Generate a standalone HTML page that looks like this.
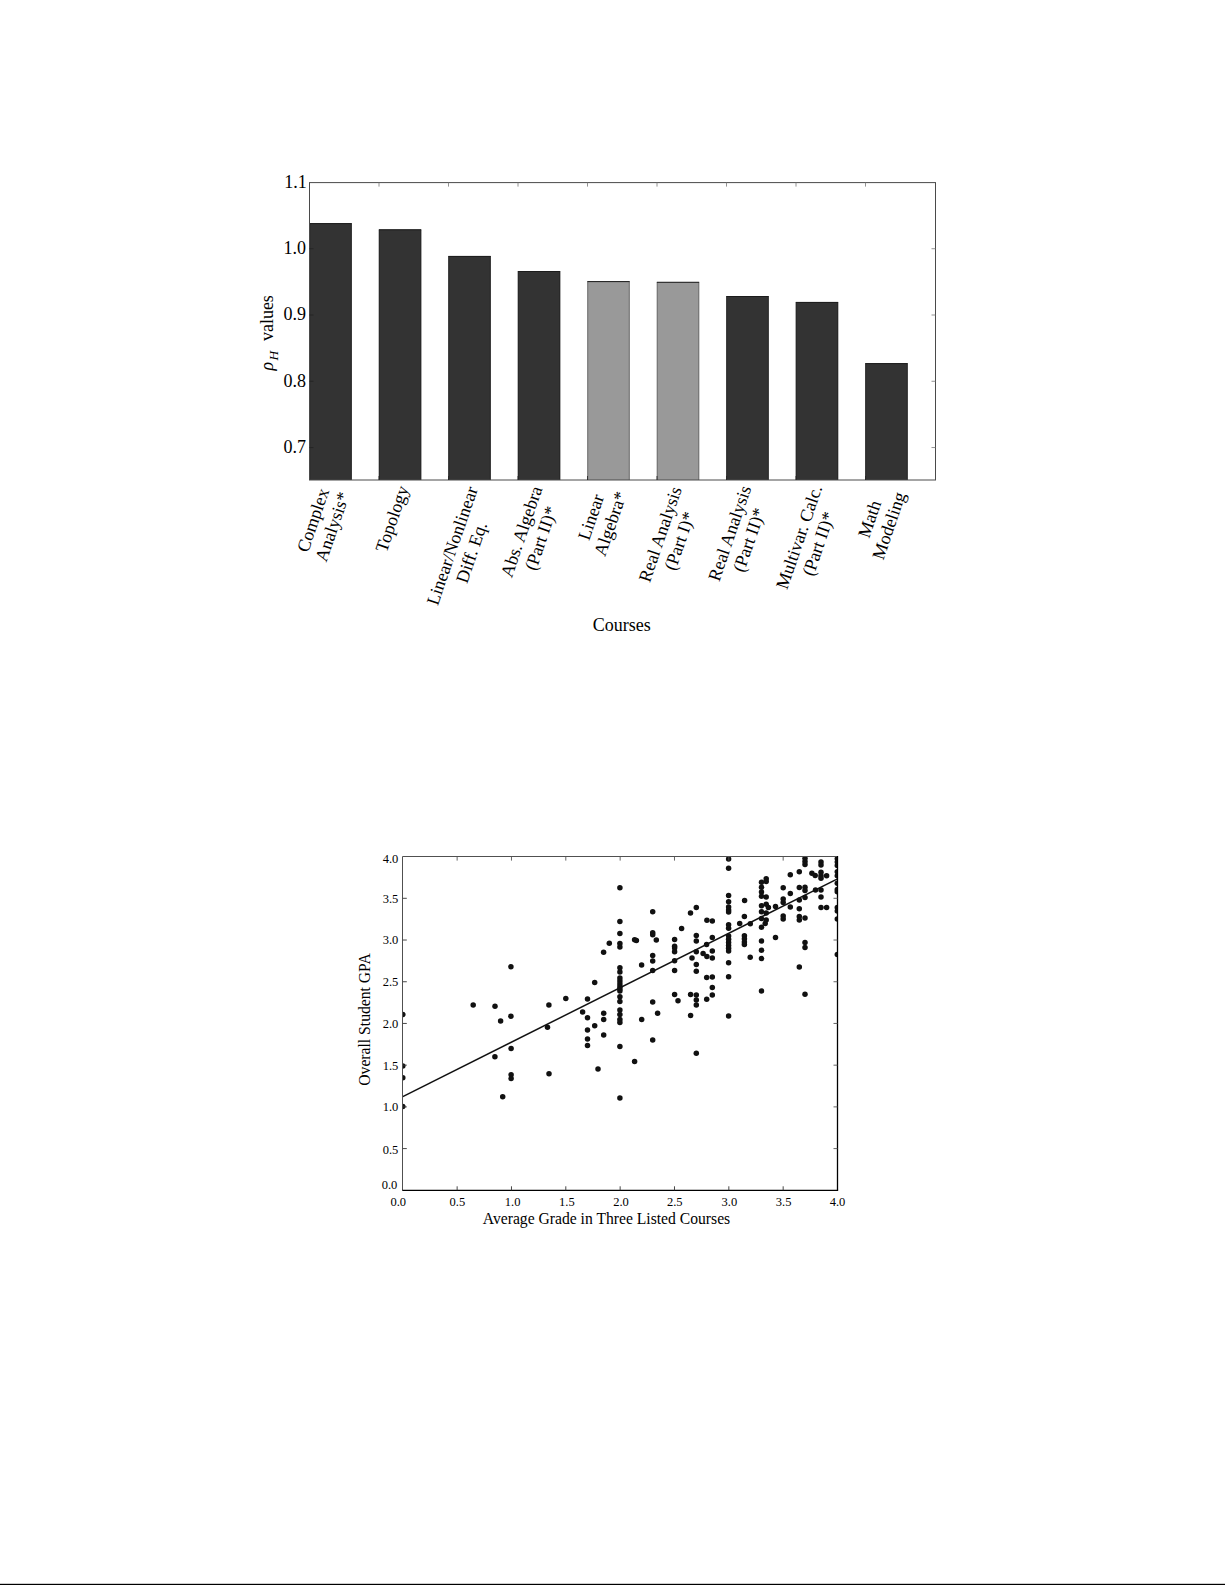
<!DOCTYPE html>
<html><head><meta charset="utf-8"><title>Figures</title>
<style>html,body{margin:0;padding:0;background:#fff;width:1225px;height:1585px;overflow:hidden}svg{display:block}</style>
</head><body>
<svg width="1225" height="1585" viewBox="0 0 1225 1585" font-family="'Liberation Serif','Times New Roman',serif" fill="#000"><rect x="309.40" y="223.20" width="42.30" height="256.80" fill="#333333"/>
<path d="M309.80,480.0 V223.60 M351.30,480.0 V223.60" stroke="#262626" stroke-width="0.9" fill="none"/>
<line x1="309.40" y1="223.60" x2="351.70" y2="223.60" stroke="#1c1c1c" stroke-width="1"/>
<rect x="378.89" y="229.40" width="42.30" height="250.60" fill="#333333"/>
<path d="M379.29,480.0 V229.80 M420.79,480.0 V229.80" stroke="#262626" stroke-width="0.9" fill="none"/>
<line x1="378.89" y1="229.80" x2="421.19" y2="229.80" stroke="#1c1c1c" stroke-width="1"/>
<rect x="448.38" y="256.00" width="42.30" height="224.00" fill="#333333"/>
<path d="M448.78,480.0 V256.40 M490.28,480.0 V256.40" stroke="#262626" stroke-width="0.9" fill="none"/>
<line x1="448.38" y1="256.40" x2="490.68" y2="256.40" stroke="#1c1c1c" stroke-width="1"/>
<rect x="517.87" y="271.10" width="42.30" height="208.90" fill="#333333"/>
<path d="M518.27,480.0 V271.50 M559.77,480.0 V271.50" stroke="#262626" stroke-width="0.9" fill="none"/>
<line x1="517.87" y1="271.50" x2="560.17" y2="271.50" stroke="#1c1c1c" stroke-width="1"/>
<rect x="587.36" y="281.20" width="42.30" height="198.80" fill="#999999"/>
<path d="M587.76,480.0 V281.60 M629.26,480.0 V281.60" stroke="#6a6a6a" stroke-width="0.9" fill="none"/>
<line x1="587.36" y1="281.60" x2="629.66" y2="281.60" stroke="#1c1c1c" stroke-width="1"/>
<rect x="656.85" y="281.90" width="42.30" height="198.10" fill="#999999"/>
<path d="M657.25,480.0 V282.30 M698.75,480.0 V282.30" stroke="#6a6a6a" stroke-width="0.9" fill="none"/>
<line x1="656.85" y1="282.30" x2="699.15" y2="282.30" stroke="#1c1c1c" stroke-width="1"/>
<rect x="726.34" y="296.10" width="42.30" height="183.90" fill="#333333"/>
<path d="M726.74,480.0 V296.50 M768.24,480.0 V296.50" stroke="#262626" stroke-width="0.9" fill="none"/>
<line x1="726.34" y1="296.50" x2="768.64" y2="296.50" stroke="#1c1c1c" stroke-width="1"/>
<rect x="795.83" y="302.00" width="42.30" height="178.00" fill="#333333"/>
<path d="M796.23,480.0 V302.40 M837.73,480.0 V302.40" stroke="#262626" stroke-width="0.9" fill="none"/>
<line x1="795.83" y1="302.40" x2="838.13" y2="302.40" stroke="#1c1c1c" stroke-width="1"/>
<rect x="865.32" y="363.20" width="42.30" height="116.80" fill="#333333"/>
<path d="M865.72,480.0 V363.60 M907.22,480.0 V363.60" stroke="#262626" stroke-width="0.9" fill="none"/>
<line x1="865.32" y1="363.60" x2="907.62" y2="363.60" stroke="#1c1c1c" stroke-width="1"/>
<rect x="309.5" y="182.6" width="626.0" height="297.4" fill="none" stroke="#4a4a4a" stroke-width="1"/>
<line x1="379.00" y1="182.6" x2="379.00" y2="186.6" stroke="#777" stroke-width="0.8"/>
<line x1="379.00" y1="480.0" x2="379.00" y2="476.0" stroke="#222" stroke-width="0.8"/>
<line x1="448.50" y1="182.6" x2="448.50" y2="186.6" stroke="#777" stroke-width="0.8"/>
<line x1="448.50" y1="480.0" x2="448.50" y2="476.0" stroke="#222" stroke-width="0.8"/>
<line x1="518.00" y1="182.6" x2="518.00" y2="186.6" stroke="#777" stroke-width="0.8"/>
<line x1="518.00" y1="480.0" x2="518.00" y2="476.0" stroke="#222" stroke-width="0.8"/>
<line x1="587.50" y1="182.6" x2="587.50" y2="186.6" stroke="#777" stroke-width="0.8"/>
<line x1="587.50" y1="480.0" x2="587.50" y2="476.0" stroke="#222" stroke-width="0.8"/>
<line x1="657.00" y1="182.6" x2="657.00" y2="186.6" stroke="#777" stroke-width="0.8"/>
<line x1="657.00" y1="480.0" x2="657.00" y2="476.0" stroke="#222" stroke-width="0.8"/>
<line x1="726.50" y1="182.6" x2="726.50" y2="186.6" stroke="#777" stroke-width="0.8"/>
<line x1="726.50" y1="480.0" x2="726.50" y2="476.0" stroke="#222" stroke-width="0.8"/>
<line x1="796.00" y1="182.6" x2="796.00" y2="186.6" stroke="#777" stroke-width="0.8"/>
<line x1="796.00" y1="480.0" x2="796.00" y2="476.0" stroke="#222" stroke-width="0.8"/>
<line x1="865.50" y1="182.6" x2="865.50" y2="186.6" stroke="#777" stroke-width="0.8"/>
<line x1="865.50" y1="480.0" x2="865.50" y2="476.0" stroke="#222" stroke-width="0.8"/>
<line x1="931.5" y1="248.73" x2="935.5" y2="248.73" stroke="#777" stroke-width="0.8"/>
<line x1="309.5" y1="248.73" x2="313.5" y2="248.73" stroke="#222" stroke-width="0.8"/>
<line x1="931.5" y1="315.00" x2="935.5" y2="315.00" stroke="#777" stroke-width="0.8"/>
<line x1="309.5" y1="315.00" x2="313.5" y2="315.00" stroke="#222" stroke-width="0.8"/>
<line x1="931.5" y1="381.27" x2="935.5" y2="381.27" stroke="#777" stroke-width="0.8"/>
<line x1="309.5" y1="381.27" x2="313.5" y2="381.27" stroke="#222" stroke-width="0.8"/>
<line x1="931.5" y1="447.54" x2="935.5" y2="447.54" stroke="#777" stroke-width="0.8"/>
<line x1="309.5" y1="447.54" x2="313.5" y2="447.54" stroke="#222" stroke-width="0.8"/>
<text x="306.8" y="187.76" font-size="18" text-anchor="end">1.1</text>
<text x="305.9" y="254.03" font-size="18" text-anchor="end">1.0</text>
<text x="305.9" y="320.30" font-size="18" text-anchor="end">0.9</text>
<text x="305.9" y="386.57" font-size="18" text-anchor="end">0.8</text>
<text x="305.9" y="452.84" font-size="18" text-anchor="end">0.7</text>
<text transform="translate(273.3,370.5) rotate(-90)" font-size="18"><tspan font-style="italic">ρ</tspan><tspan font-style="italic" font-size="13.5" dy="4.5" dx="1.3">H</tspan><tspan dy="-4.5" dx="9.7">values</tspan></text>
<text x="621.7" y="630.9" font-size="18" text-anchor="middle">Courses</text>
<text transform="translate(312.96,520.01) rotate(-71.0)" font-size="18" text-anchor="middle" dy="6">Complex</text>
<text transform="translate(332.34,526.69) rotate(-71.0)" font-size="18" text-anchor="middle" dy="6">Analysis*</text>
<text transform="translate(392.00,518.70) rotate(-71.0)" font-size="18" text-anchor="middle" dy="6">Topology</text>
<text transform="translate(452.16,545.66) rotate(-71.0)" font-size="18" text-anchor="middle" dy="6">Linear/Nonlinear</text>
<text transform="translate(471.54,552.34) rotate(-71.0)" font-size="18" text-anchor="middle" dy="6">Diff. Eq.</text>
<text transform="translate(521.46,531.56) rotate(-71.0)" font-size="18" text-anchor="middle" dy="6">Abs. Algebra</text>
<text transform="translate(540.84,538.24) rotate(-71.0)" font-size="18" text-anchor="middle" dy="6">(Part II)*</text>
<text transform="translate(590.96,517.01) rotate(-71.0)" font-size="18" text-anchor="middle" dy="6">Linear</text>
<text transform="translate(610.34,523.69) rotate(-71.0)" font-size="18" text-anchor="middle" dy="6">Algebra*</text>
<text transform="translate(660.16,534.21) rotate(-71.0)" font-size="18" text-anchor="middle" dy="6">Real Analysis</text>
<text transform="translate(679.54,540.89) rotate(-71.0)" font-size="18" text-anchor="middle" dy="6">(Part I)*</text>
<text transform="translate(729.66,533.16) rotate(-71.0)" font-size="18" text-anchor="middle" dy="6">Real Analysis</text>
<text transform="translate(749.04,539.84) rotate(-71.0)" font-size="18" text-anchor="middle" dy="6">(Part II)*</text>
<text transform="translate(799.01,537.06) rotate(-71.0)" font-size="18" text-anchor="middle" dy="6">Multivar. Calc.</text>
<text transform="translate(818.39,543.74) rotate(-71.0)" font-size="18" text-anchor="middle" dy="6">(Part II)*</text>
<text transform="translate(869.51,519.01) rotate(-71.0)" font-size="18" text-anchor="middle" dy="6">Math</text>
<text transform="translate(888.89,525.69) rotate(-71.0)" font-size="18" text-anchor="middle" dy="6">Modeling</text>
<defs><clipPath id="ca"><rect x="402.80" y="856.60" width="434.70" height="333.70"/></clipPath></defs>
<g clip-path="url(#ca)" fill="#111">
<circle cx="402.8" cy="1014.6" r="2.75"/>
<circle cx="402.8" cy="1066.1" r="2.75"/>
<circle cx="402.8" cy="1077.8" r="2.75"/>
<circle cx="402.8" cy="1106.5" r="2.75"/>
<circle cx="473.2" cy="1005.0" r="2.75"/>
<circle cx="495.0" cy="1006.2" r="2.75"/>
<circle cx="500.6" cy="1021.0" r="2.75"/>
<circle cx="510.9" cy="1016.2" r="2.75"/>
<circle cx="510.9" cy="966.8" r="2.75"/>
<circle cx="511.1" cy="1048.4" r="2.75"/>
<circle cx="494.9" cy="1056.8" r="2.75"/>
<circle cx="511.1" cy="1074.7" r="2.75"/>
<circle cx="511.1" cy="1078.6" r="2.75"/>
<circle cx="502.7" cy="1096.8" r="2.75"/>
<circle cx="549.0" cy="1073.7" r="2.75"/>
<circle cx="548.9" cy="1004.9" r="2.75"/>
<circle cx="547.5" cy="1027.2" r="2.75"/>
<circle cx="565.8" cy="998.5" r="2.75"/>
<circle cx="587.5" cy="999.1" r="2.75"/>
<circle cx="594.7" cy="982.5" r="2.75"/>
<circle cx="582.6" cy="1011.9" r="2.75"/>
<circle cx="587.5" cy="1017.7" r="2.75"/>
<circle cx="594.7" cy="1025.8" r="2.75"/>
<circle cx="587.5" cy="1030.0" r="2.75"/>
<circle cx="587.5" cy="1038.9" r="2.75"/>
<circle cx="587.5" cy="1045.6" r="2.75"/>
<circle cx="603.7" cy="1013.3" r="2.75"/>
<circle cx="603.7" cy="1019.6" r="2.75"/>
<circle cx="603.7" cy="1035.0" r="2.75"/>
<circle cx="598.0" cy="1068.9" r="2.75"/>
<circle cx="609.3" cy="943.2" r="2.75"/>
<circle cx="603.6" cy="952.2" r="2.75"/>
<circle cx="634.6" cy="939.7" r="2.75"/>
<circle cx="636.4" cy="940.4" r="2.75"/>
<circle cx="641.6" cy="965.0" r="2.75"/>
<circle cx="641.7" cy="1019.5" r="2.75"/>
<circle cx="634.6" cy="1061.5" r="2.75"/>
<circle cx="652.7" cy="911.7" r="2.75"/>
<circle cx="652.7" cy="932.8" r="2.75"/>
<circle cx="652.7" cy="934.8" r="2.75"/>
<circle cx="656.3" cy="939.9" r="2.75"/>
<circle cx="652.7" cy="955.5" r="2.75"/>
<circle cx="652.7" cy="961.1" r="2.75"/>
<circle cx="652.7" cy="970.4" r="2.75"/>
<circle cx="652.7" cy="1002.0" r="2.75"/>
<circle cx="657.6" cy="1013.2" r="2.75"/>
<circle cx="652.7" cy="1039.9" r="2.75"/>
<circle cx="674.6" cy="939.6" r="2.75"/>
<circle cx="674.6" cy="946.2" r="2.75"/>
<circle cx="674.6" cy="948.0" r="2.75"/>
<circle cx="674.6" cy="951.7" r="2.75"/>
<circle cx="674.6" cy="960.8" r="2.75"/>
<circle cx="674.6" cy="970.4" r="2.75"/>
<circle cx="674.6" cy="994.4" r="2.75"/>
<circle cx="678.0" cy="1000.7" r="2.75"/>
<circle cx="681.6" cy="928.5" r="2.75"/>
<circle cx="690.5" cy="913.1" r="2.75"/>
<circle cx="696.3" cy="907.6" r="2.75"/>
<circle cx="696.3" cy="935.6" r="2.75"/>
<circle cx="696.3" cy="941.1" r="2.75"/>
<circle cx="696.3" cy="951.7" r="2.75"/>
<circle cx="692.0" cy="958.1" r="2.75"/>
<circle cx="696.3" cy="964.4" r="2.75"/>
<circle cx="696.3" cy="971.2" r="2.75"/>
<circle cx="690.6" cy="994.4" r="2.75"/>
<circle cx="690.6" cy="1015.5" r="2.75"/>
<circle cx="696.3" cy="994.9" r="2.75"/>
<circle cx="696.3" cy="1000.0" r="2.75"/>
<circle cx="696.3" cy="1005.0" r="2.75"/>
<circle cx="696.3" cy="1053.2" r="2.75"/>
<circle cx="706.9" cy="920.2" r="2.75"/>
<circle cx="712.3" cy="920.9" r="2.75"/>
<circle cx="712.3" cy="937.4" r="2.75"/>
<circle cx="706.6" cy="944.4" r="2.75"/>
<circle cx="703.1" cy="953.6" r="2.75"/>
<circle cx="706.9" cy="956.6" r="2.75"/>
<circle cx="712.3" cy="950.9" r="2.75"/>
<circle cx="712.3" cy="957.9" r="2.75"/>
<circle cx="706.7" cy="977.6" r="2.75"/>
<circle cx="712.3" cy="977.0" r="2.75"/>
<circle cx="712.3" cy="987.6" r="2.75"/>
<circle cx="712.3" cy="995.1" r="2.75"/>
<circle cx="706.7" cy="999.3" r="2.75"/>
<circle cx="744.6" cy="900.6" r="2.75"/>
<circle cx="744.4" cy="916.6" r="2.75"/>
<circle cx="739.7" cy="923.4" r="2.75"/>
<circle cx="750.3" cy="923.7" r="2.75"/>
<circle cx="750.2" cy="957.2" r="2.75"/>
<circle cx="768.4" cy="907.5" r="2.75"/>
<circle cx="765.2" cy="923.5" r="2.75"/>
<circle cx="775.5" cy="906.5" r="2.75"/>
<circle cx="775.5" cy="937.5" r="2.75"/>
<circle cx="811.9" cy="873.2" r="2.75"/>
<circle cx="815.2" cy="875.5" r="2.75"/>
<circle cx="815.5" cy="889.9" r="2.75"/>
<circle cx="826.6" cy="875.7" r="2.75"/>
<circle cx="826.6" cy="907.5" r="2.75"/>
<circle cx="619.9" cy="887.8" r="2.75"/>
<circle cx="619.9" cy="921.4" r="2.75"/>
<circle cx="619.9" cy="933.4" r="2.75"/>
<circle cx="619.9" cy="943.4" r="2.75"/>
<circle cx="619.9" cy="946.9" r="2.75"/>
<circle cx="619.9" cy="967.8" r="2.75"/>
<circle cx="619.9" cy="972.0" r="2.75"/>
<circle cx="619.9" cy="977.9" r="2.75"/>
<circle cx="619.9" cy="981.1" r="2.75"/>
<circle cx="619.9" cy="984.0" r="2.75"/>
<circle cx="619.9" cy="986.7" r="2.75"/>
<circle cx="619.9" cy="988.9" r="2.75"/>
<circle cx="619.9" cy="991.1" r="2.75"/>
<circle cx="619.9" cy="996.8" r="2.75"/>
<circle cx="619.9" cy="1001.5" r="2.75"/>
<circle cx="619.9" cy="1010.0" r="2.75"/>
<circle cx="619.9" cy="1014.5" r="2.75"/>
<circle cx="619.9" cy="1019.6" r="2.75"/>
<circle cx="619.9" cy="1022.5" r="2.75"/>
<circle cx="619.9" cy="1046.6" r="2.75"/>
<circle cx="619.9" cy="1098.1" r="2.75"/>
<circle cx="728.6" cy="859.1" r="2.75"/>
<circle cx="728.6" cy="868.3" r="2.75"/>
<circle cx="728.6" cy="895.4" r="2.75"/>
<circle cx="728.6" cy="901.7" r="2.75"/>
<circle cx="728.6" cy="907.1" r="2.75"/>
<circle cx="728.6" cy="910.0" r="2.75"/>
<circle cx="728.6" cy="912.0" r="2.75"/>
<circle cx="728.6" cy="924.7" r="2.75"/>
<circle cx="728.6" cy="928.2" r="2.75"/>
<circle cx="728.6" cy="936.1" r="2.75"/>
<circle cx="728.6" cy="939.2" r="2.75"/>
<circle cx="728.6" cy="942.4" r="2.75"/>
<circle cx="728.6" cy="945.5" r="2.75"/>
<circle cx="728.6" cy="948.2" r="2.75"/>
<circle cx="728.6" cy="950.9" r="2.75"/>
<circle cx="728.6" cy="962.8" r="2.75"/>
<circle cx="728.6" cy="976.7" r="2.75"/>
<circle cx="728.6" cy="1016.1" r="2.75"/>
<circle cx="744.4" cy="935.7" r="2.75"/>
<circle cx="744.4" cy="938.8" r="2.75"/>
<circle cx="744.4" cy="941.9" r="2.75"/>
<circle cx="744.4" cy="944.6" r="2.75"/>
<circle cx="761.5" cy="882.3" r="2.75"/>
<circle cx="761.5" cy="887.3" r="2.75"/>
<circle cx="761.5" cy="891.9" r="2.75"/>
<circle cx="761.5" cy="896.2" r="2.75"/>
<circle cx="761.5" cy="905.8" r="2.75"/>
<circle cx="761.5" cy="911.8" r="2.75"/>
<circle cx="761.5" cy="918.6" r="2.75"/>
<circle cx="761.5" cy="927.2" r="2.75"/>
<circle cx="761.5" cy="941.0" r="2.75"/>
<circle cx="761.5" cy="950.2" r="2.75"/>
<circle cx="761.5" cy="958.6" r="2.75"/>
<circle cx="761.5" cy="990.9" r="2.75"/>
<circle cx="766.2" cy="878.8" r="2.75"/>
<circle cx="766.2" cy="881.5" r="2.75"/>
<circle cx="766.2" cy="896.9" r="2.75"/>
<circle cx="766.2" cy="904.2" r="2.75"/>
<circle cx="766.2" cy="913.1" r="2.75"/>
<circle cx="766.2" cy="919.9" r="2.75"/>
<circle cx="783.2" cy="887.8" r="2.75"/>
<circle cx="783.2" cy="898.9" r="2.75"/>
<circle cx="783.2" cy="902.5" r="2.75"/>
<circle cx="783.2" cy="916.1" r="2.75"/>
<circle cx="783.2" cy="919.1" r="2.75"/>
<circle cx="790.3" cy="874.7" r="2.75"/>
<circle cx="790.3" cy="893.4" r="2.75"/>
<circle cx="790.3" cy="907.0" r="2.75"/>
<circle cx="799.3" cy="871.7" r="2.75"/>
<circle cx="799.3" cy="887.6" r="2.75"/>
<circle cx="799.3" cy="900.0" r="2.75"/>
<circle cx="799.3" cy="908.8" r="2.75"/>
<circle cx="799.3" cy="916.6" r="2.75"/>
<circle cx="799.3" cy="920.1" r="2.75"/>
<circle cx="799.3" cy="966.9" r="2.75"/>
<circle cx="805.0" cy="858.3" r="2.75"/>
<circle cx="805.0" cy="861.4" r="2.75"/>
<circle cx="805.0" cy="864.4" r="2.75"/>
<circle cx="805.0" cy="887.3" r="2.75"/>
<circle cx="805.0" cy="890.4" r="2.75"/>
<circle cx="805.0" cy="897.4" r="2.75"/>
<circle cx="805.0" cy="917.9" r="2.75"/>
<circle cx="805.0" cy="942.4" r="2.75"/>
<circle cx="805.0" cy="947.5" r="2.75"/>
<circle cx="805.0" cy="994.3" r="2.75"/>
<circle cx="821.0" cy="862.1" r="2.75"/>
<circle cx="821.0" cy="865.1" r="2.75"/>
<circle cx="821.0" cy="872.2" r="2.75"/>
<circle cx="821.0" cy="875.7" r="2.75"/>
<circle cx="821.0" cy="878.3" r="2.75"/>
<circle cx="821.0" cy="889.9" r="2.75"/>
<circle cx="821.0" cy="896.9" r="2.75"/>
<circle cx="821.0" cy="907.5" r="2.75"/>
<circle cx="837.3" cy="858.6" r="2.75"/>
<circle cx="837.3" cy="862.1" r="2.75"/>
<circle cx="837.3" cy="865.6" r="2.75"/>
<circle cx="837.3" cy="871.7" r="2.75"/>
<circle cx="837.3" cy="875.8" r="2.75"/>
<circle cx="837.3" cy="883.2" r="2.75"/>
<circle cx="837.3" cy="889.5" r="2.75"/>
<circle cx="837.3" cy="891.8" r="2.75"/>
<circle cx="837.3" cy="907.5" r="2.75"/>
<circle cx="837.3" cy="911.0" r="2.75"/>
<circle cx="837.3" cy="919.0" r="2.75"/>
<circle cx="837.3" cy="954.5" r="2.75"/>
<line x1="402.8" y1="1096.6" x2="837.5" y2="878.8" stroke="#111" stroke-width="1.5"/>
</g>
<line x1="402.5" y1="856.5" x2="837.5" y2="856.5" stroke="#505050" stroke-width="1"/>
<line x1="402.5" y1="856.5" x2="402.5" y2="1190.3" stroke="#505050" stroke-width="1"/>
<line x1="402.3" y1="1190.3" x2="838.15" y2="1190.3" stroke="#000" stroke-width="1.3"/>
<line x1="837.5" y1="856.1" x2="837.5" y2="1190.3" stroke="#000" stroke-width="1.3"/>
<line x1="457.14" y1="856.6" x2="457.14" y2="860.6" stroke="#555" stroke-width="0.9"/>
<line x1="457.14" y1="1190.3" x2="457.14" y2="1186.3" stroke="#333" stroke-width="0.9"/>
<line x1="402.8" y1="1148.59" x2="406.8" y2="1148.59" stroke="#333" stroke-width="0.9"/>
<line x1="833.5" y1="1148.59" x2="837.5" y2="1148.59" stroke="#555" stroke-width="0.9"/>
<line x1="511.48" y1="856.6" x2="511.48" y2="860.6" stroke="#555" stroke-width="0.9"/>
<line x1="511.48" y1="1190.3" x2="511.48" y2="1186.3" stroke="#333" stroke-width="0.9"/>
<line x1="402.8" y1="1106.88" x2="406.8" y2="1106.88" stroke="#333" stroke-width="0.9"/>
<line x1="833.5" y1="1106.88" x2="837.5" y2="1106.88" stroke="#555" stroke-width="0.9"/>
<line x1="565.81" y1="856.6" x2="565.81" y2="860.6" stroke="#555" stroke-width="0.9"/>
<line x1="565.81" y1="1190.3" x2="565.81" y2="1186.3" stroke="#333" stroke-width="0.9"/>
<line x1="402.8" y1="1065.16" x2="406.8" y2="1065.16" stroke="#333" stroke-width="0.9"/>
<line x1="833.5" y1="1065.16" x2="837.5" y2="1065.16" stroke="#555" stroke-width="0.9"/>
<line x1="620.15" y1="856.6" x2="620.15" y2="860.6" stroke="#555" stroke-width="0.9"/>
<line x1="620.15" y1="1190.3" x2="620.15" y2="1186.3" stroke="#333" stroke-width="0.9"/>
<line x1="402.8" y1="1023.45" x2="406.8" y2="1023.45" stroke="#333" stroke-width="0.9"/>
<line x1="833.5" y1="1023.45" x2="837.5" y2="1023.45" stroke="#555" stroke-width="0.9"/>
<line x1="674.49" y1="856.6" x2="674.49" y2="860.6" stroke="#555" stroke-width="0.9"/>
<line x1="674.49" y1="1190.3" x2="674.49" y2="1186.3" stroke="#333" stroke-width="0.9"/>
<line x1="402.8" y1="981.74" x2="406.8" y2="981.74" stroke="#333" stroke-width="0.9"/>
<line x1="833.5" y1="981.74" x2="837.5" y2="981.74" stroke="#555" stroke-width="0.9"/>
<line x1="728.83" y1="856.6" x2="728.83" y2="860.6" stroke="#555" stroke-width="0.9"/>
<line x1="728.83" y1="1190.3" x2="728.83" y2="1186.3" stroke="#333" stroke-width="0.9"/>
<line x1="402.8" y1="940.02" x2="406.8" y2="940.02" stroke="#333" stroke-width="0.9"/>
<line x1="833.5" y1="940.02" x2="837.5" y2="940.02" stroke="#555" stroke-width="0.9"/>
<line x1="783.16" y1="856.6" x2="783.16" y2="860.6" stroke="#555" stroke-width="0.9"/>
<line x1="783.16" y1="1190.3" x2="783.16" y2="1186.3" stroke="#333" stroke-width="0.9"/>
<line x1="402.8" y1="898.31" x2="406.8" y2="898.31" stroke="#333" stroke-width="0.9"/>
<line x1="833.5" y1="898.31" x2="837.5" y2="898.31" stroke="#555" stroke-width="0.9"/>
<text x="398.3" y="863.0" font-size="12.5" text-anchor="end">4.0</text>
<text x="398.3" y="903.2" font-size="12.5" text-anchor="end">3.5</text>
<text x="398.3" y="944.0" font-size="12.5" text-anchor="end">3.0</text>
<text x="398.3" y="986.0" font-size="12.5" text-anchor="end">2.5</text>
<text x="398.3" y="1027.5" font-size="12.5" text-anchor="end">2.0</text>
<text x="398.3" y="1070.3" font-size="12.5" text-anchor="end">1.5</text>
<text x="398.3" y="1111.2" font-size="12.5" text-anchor="end">1.0</text>
<text x="398.3" y="1153.5" font-size="12.5" text-anchor="end">0.5</text>
<text x="397.3" y="1189.0" font-size="12.5" text-anchor="end">0.0</text>
<text x="398.3" y="1205.8" font-size="12.5" text-anchor="middle">0.0</text>
<text x="457.4" y="1205.8" font-size="12.5" text-anchor="middle">0.5</text>
<text x="512.6" y="1205.8" font-size="12.5" text-anchor="middle">1.0</text>
<text x="566.9" y="1205.8" font-size="12.5" text-anchor="middle">1.5</text>
<text x="621.0" y="1205.8" font-size="12.5" text-anchor="middle">2.0</text>
<text x="674.8" y="1205.8" font-size="12.5" text-anchor="middle">2.5</text>
<text x="729.4" y="1205.8" font-size="12.5" text-anchor="middle">3.0</text>
<text x="783.6" y="1205.8" font-size="12.5" text-anchor="middle">3.5</text>
<text x="837.5" y="1205.8" font-size="12.5" text-anchor="middle">4.0</text>
<text x="606.5" y="1224.3" font-size="15.65" text-anchor="middle">Average Grade in Three Listed Courses</text>
<text transform="translate(370.2,1019.5) rotate(-90)" font-size="15.65" text-anchor="middle">Overall Student GPA</text>
<rect x="0" y="1583.8" width="1225" height="1.2" fill="#000"/></svg>
</body></html>
